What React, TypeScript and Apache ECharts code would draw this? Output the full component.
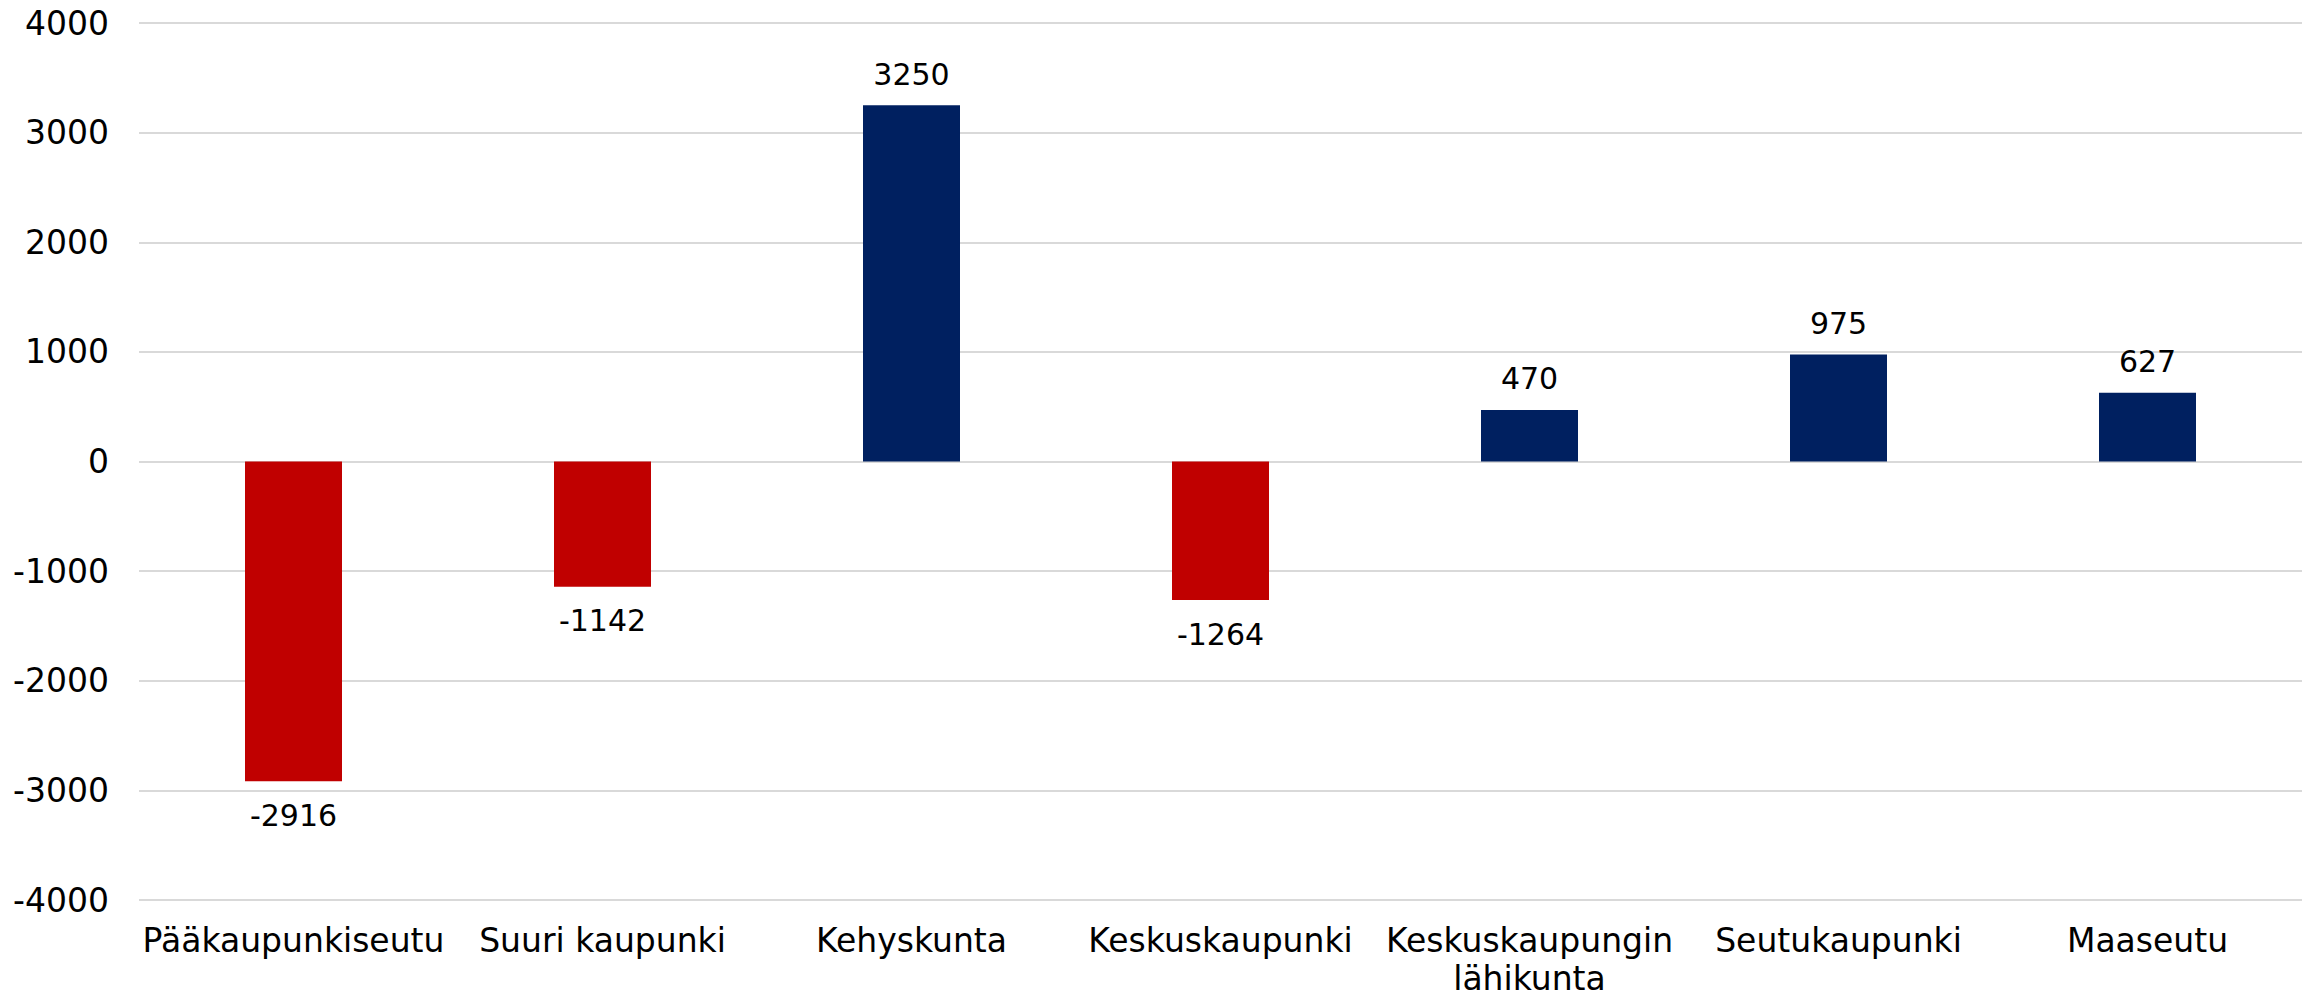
import React, { useEffect, useRef } from "react";
import * as echarts from "echarts";

const categories = [
  "Pääkaupunkiseutu",
  "Suuri kaupunki",
  "Kehyskunta",
  "Keskuskaupunki",
  "Keskuskaupungin\nlähikunta",
  "Seutukaupunki",
  "Maaseutu",
];
const values = [-2916, -1142, 3250, -1264, 470, 975, 627];
const yMin = -4000;
const yMax = 4000;
const yInterval = 1000;

const NEG = "#C00000";
const POS = "#002060";
const FONT = "'DejaVu Sans', sans-serif";

export default function App() {
  const ref = useRef<HTMLDivElement>(null);
  useEffect(() => {
    if (!ref.current) return;
    const chart = echarts.init(ref.current, undefined, { renderer: "svg" });
    chart.setOption({
      animation: false,
      backgroundColor: "#ffffff",
      grid: { left: 139, right: 9, top: 23, bottom: 94, containLabel: false },
      xAxis: {
        type: "category",
        data: categories,
        axisLine: { show: false },
        axisTick: { show: false },
        axisLabel: {
          color: "#000000",
          fontFamily: FONT,
          fontSize: 33,
          lineHeight: 38,
          margin: 21,
          interval: 0,
        },
      },
      yAxis: {
        type: "value",
        min: yMin,
        max: yMax,
        interval: yInterval,
        axisLine: { show: false },
        axisTick: { show: false },
        splitLine: { lineStyle: { color: "#D9D9D9", width: 2 } },
        axisLabel: {
          color: "#000000",
          fontFamily: FONT,
          fontSize: 33,
          margin: 30,
          formatter: (v: number) => String(v),
        },
      },
      series: [
        {
          type: "bar",
          barWidth: 97,
          data: values.map((v) => ({
            value: v,
            itemStyle: { color: v < 0 ? NEG : POS },
            label: {
              show: true,
              position: v < 0 ? "bottom" : "top",
              distance: v < 0 ? 19 : 16,
              color: "#000000",
              fontFamily: FONT,
              fontSize: 30,
            },
          })),
        },
      ],
    });
    return () => chart.dispose();
  }, []);
  return (
    <div
      ref={ref}
      style={{ position: "fixed", left: 0, top: 0, width: 2311, height: 997 }}
    />
  );
}
